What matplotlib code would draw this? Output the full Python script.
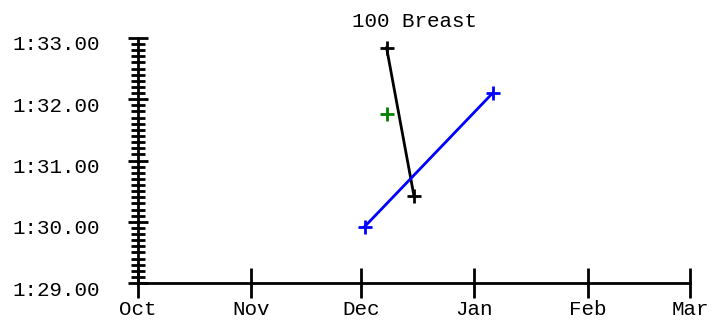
import matplotlib
matplotlib.use('Agg')
import matplotlib.pyplot as plt
import matplotlib.dates as mdates
from matplotlib.ticker import FuncFormatter, MultipleLocator
from matplotlib.transforms import ScaledTranslation
import datetime as dt

title = "100 Breast"

black_dates = [dt.datetime(2000, 12, 8), dt.datetime(2000, 12, 15, 12)]
black_times = [92.84, 90.42]

blue_dates = [dt.datetime(2000, 12, 2), dt.datetime(2001, 1, 6)]
blue_times = [89.92, 92.10]

green_dates = [dt.datetime(2000, 12, 8)]
green_times = [91.76]

month_ticks = [dt.datetime(2000, 10, 1), dt.datetime(2000, 11, 1), dt.datetime(2000, 12, 1),
               dt.datetime(2001, 1, 1), dt.datetime(2001, 2, 1), dt.datetime(2001, 3, 1)]

plt.rcParams['font.family'] = ['Liberation Mono', 'DejaVu Sans Mono']

fig = plt.figure(figsize=(7.27, 3.20), dpi=100)
ax = fig.add_axes([138 / 727, 1 - 283 / 320, (690 - 138) / 727, (283 - 38) / 320])

# sizes below are in points (1 px = 0.72 pt at 100 dpi)
ax.plot(black_dates, black_times, color='black', lw=2, marker='+', ms=10, mew=2)
ax.plot(blue_dates, blue_times, color='blue', lw=2, marker='+', ms=10, mew=2)
ax.plot(green_dates, green_times, color='green', lw=0, marker='+', ms=10, mew=2)

ax.set_xlim(month_ticks[0], month_ticks[-1])
ax.set_ylim(89, 93)
ax.set_xticks(month_ticks)
ax.xaxis.set_major_formatter(mdates.DateFormatter('%b'))
ax.yaxis.set_major_locator(MultipleLocator(1))
ax.yaxis.set_minor_locator(MultipleLocator(0.1))
ax.yaxis.set_major_formatter(FuncFormatter(lambda v, p: "%d:%05.2f" % (v // 60, v % 60)))

for s in ['top', 'right']:
    ax.spines[s].set_visible(False)
for s in ['left', 'bottom']:
    ax.spines[s].set_linewidth(2)

ax.tick_params(axis='y', which='major', direction='inout', length=14.4, width=2, labelsize=15, pad=20)
ax.tick_params(axis='y', which='minor', direction='inout', length=9.4, width=2)
ax.tick_params(axis='x', which='major', direction='inout', length=21, width=2, labelsize=15, pad=2)

# y labels sit a bit below their ticks in the original
shift = ScaledTranslation(0, -5 / 100, fig.dpi_scale_trans)
for t in ax.yaxis.get_major_ticks():
    t.label1.set_transform(t.label1.get_transform() + shift)

ax.set_title(title, fontsize=15, pad=8)

fig.savefig('out.png', dpi=100)
